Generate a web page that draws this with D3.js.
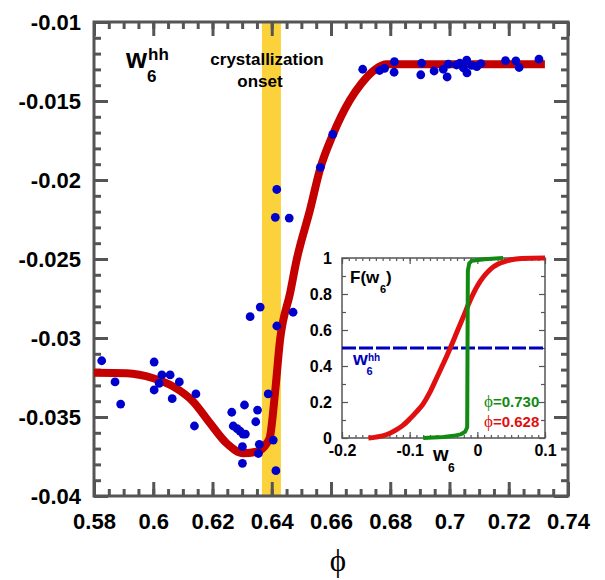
<!DOCTYPE html>
<html>
<head>
<meta charset="utf-8">
<script src="https://cdn.jsdelivr.net/npm/d3@7"></script>
<style>
  body { margin: 0; background: #fff; }
  svg text { font-family: "Liberation Sans", Arial, Helvetica, sans-serif; font-weight: bold; }
</style>
</head>
<body>
<div id="chart"></div>
<script>
// fitted curve (main plot)
var phiFit = [0.580, 0.591, 0.600, 0.6068, 0.6135, 0.6192, 0.6248, 0.6304, 0.6349, 0.6383, 0.6394,
  0.6411, 0.6428, 0.6462, 0.6484, 0.6529, 0.6564, 0.6606, 0.6664, 0.6704, 0.6749, 0.6788, 0.7322];
var wFit = [-0.03220, -0.03223, -0.03255, -0.03308, -0.03403, -0.0354, -0.03667, -0.0373, -0.0372, -0.03667, -0.03625,
  -0.03348, -0.03013, -0.02715, -0.02506, -0.0219, -0.01925, -0.01715, -0.01494, -0.01386, -0.01300, -0.01268, -0.01268];

// measured points
var phiPts = [0.5826, 0.5871, 0.5890, 0.6003, 0.6003, 0.6020, 0.6029, 0.6057, 0.6064, 0.6088,
  0.6144, 0.6139, 0.6265, 0.6270, 0.6283, 0.6293, 0.6303, 0.6311, 0.6308, 0.6301,
  0.6301, 0.6327, 0.6361, 0.6352, 0.6346, 0.6358, 0.6355, 0.6388, 0.6405, 0.6417,
  0.6414, 0.6472, 0.6417, 0.6412, 0.6459, 0.6564, 0.6606, 0.6707, 0.6764, 0.6781,
  0.6814, 0.6813, 0.6906, 0.6903, 0.6948, 0.6979, 0.6992, 0.6996, 0.7024, 0.7035,
  0.7047, 0.7058, 0.7059, 0.7075, 0.7092, 0.7106, 0.7189, 0.7224, 0.7235, 0.7302];
var wPts = [-0.03144, -0.03278, -0.03418, -0.03152, -0.03329, -0.03287, -0.03234, -0.03234, -0.03384, -0.03278,
  -0.03354, -0.03557, -0.03470, -0.03557, -0.03573, -0.03589, -0.03608, -0.03608, -0.03424, -0.03688,
  -0.03793, -0.02865, -0.02804, -0.03456, -0.03530, -0.03673, -0.03731, -0.03354, -0.03646, -0.02924,
  -0.03840, -0.02837, -0.02060, -0.02236, -0.02241, -0.01920, -0.01711, -0.01299, -0.01307, -0.01293,
  -0.01251, -0.01318, -0.01261, -0.01334, -0.01310, -0.01299, -0.01348, -0.01266, -0.01272, -0.01261,
  -0.01291, -0.01242, -0.01322, -0.01275, -0.01283, -0.01264, -0.01245, -0.01246, -0.01288, -0.01235];

var onsetBand = [0.6367, 0.6431];

var xTicks = [0.58, 0.6, 0.62, 0.64, 0.66, 0.68, 0.7, 0.72, 0.74];
var yTicks = [-0.04, -0.035, -0.03, -0.025, -0.02, -0.015, -0.01];

// inset: cumulative distributions F(w6)
var redW = [-0.161, -0.15, -0.14, -0.13, -0.12, -0.11, -0.10, -0.09, -0.08, -0.07, -0.06, -0.05,
  -0.04, -0.03, -0.02, -0.01, 0.0, 0.01, 0.02, 0.03, 0.04, 0.05, 0.065, 0.1];
var redF = [0, 0.005, 0.012, 0.025, 0.045, 0.07, 0.105, 0.145, 0.19, 0.255, 0.335, 0.415,
  0.5, 0.59, 0.68, 0.77, 0.845, 0.9, 0.94, 0.965, 0.98, 0.99, 0.997, 1.0];
var greenW = [-0.08, -0.05, -0.035, -0.025, -0.018, -0.015, -0.0145, -0.014, -0.012, -0.008, 0.01, 0.038];
var greenF = [0, 0.005, 0.012, 0.02, 0.035, 0.06, 0.5, 0.93, 0.97, 0.985, 0.993, 1.0];
var hhLevel = 0.5;

var insetXTicks = [-0.2, -0.1, 0, 0.1];
var insetYTicks = [0, 0.2, 0.4, 0.6, 0.8, 1];

var svgWidth = 605, svgHeight = 580;
var margin = {top: 22, left: 94};
var width = 474, height = 474;

var svg = d3.select("#chart").append("svg")
  .attr("width", svgWidth)
  .attr("height", svgHeight);

var chartGroup = svg.append("g")
  .attr("transform", `translate(${margin.left}, ${margin.top})`);

var x = d3.scaleLinear().domain([0.58, 0.74]).range([0, width]);
var y = d3.scaleLinear().domain([-0.04, -0.01]).range([height, 0]);

var fmt = d => String(+d.toFixed(3));
var axisColor = "#555";

// crystallization onset band
chartGroup.append("rect")
  .attr("x", x(onsetBand[0]))
  .attr("y", 0)
  .attr("width", x(onsetBand[1]) - x(onsetBand[0]))
  .attr("height", height)
  .attr("fill", "#fcd23c");

// ticks on all four sides, pointing inwards
function styleAxis(g, w) {
  g.select(".domain").remove();
  g.selectAll("line").attr("stroke", axisColor).attr("stroke-width", w);
  g.selectAll("text").attr("fill", "#000");
}

var xMinor = d3.range(0.58, 0.7401, 0.005);
var yMinor = d3.range(-0.04, -0.00999, 0.001);

chartGroup.append("g").attr("transform", `translate(0,${height})`)
  .call(d3.axisBottom(x).tickValues(xMinor).tickSize(-7).tickFormat(""))
  .call(g => styleAxis(g, 3));
chartGroup.append("g").attr("transform", `translate(0,${height})`)
  .call(d3.axisBottom(x).tickValues(xTicks).tickSize(-14).tickPadding(17).tickFormat(fmt))
  .call(g => styleAxis(g, 3))
  .selectAll("text").style("font-size", "22px");
chartGroup.append("g")
  .call(d3.axisTop(x).tickValues(xMinor).tickSize(-7).tickFormat(""))
  .call(g => styleAxis(g, 3));
chartGroup.append("g")
  .call(d3.axisTop(x).tickValues(xTicks).tickSize(-14).tickFormat(""))
  .call(g => styleAxis(g, 3));

chartGroup.append("g")
  .call(d3.axisLeft(y).tickValues(yMinor).tickSize(-7).tickFormat(""))
  .call(g => styleAxis(g, 3));
chartGroup.append("g")
  .call(d3.axisLeft(y).tickValues(yTicks).tickSize(-14).tickPadding(13).tickFormat(fmt))
  .call(g => styleAxis(g, 3))
  .selectAll("text").style("font-size", "22px");
chartGroup.append("g").attr("transform", `translate(${width},0)`)
  .call(d3.axisRight(y).tickValues(yMinor).tickSize(-7).tickFormat(""))
  .call(g => styleAxis(g, 3));
chartGroup.append("g").attr("transform", `translate(${width},0)`)
  .call(d3.axisRight(y).tickValues(yTicks).tickSize(-14).tickFormat(""))
  .call(g => styleAxis(g, 3));

chartGroup.append("rect")
  .attr("width", width).attr("height", height)
  .attr("fill", "none").attr("stroke", axisColor).attr("stroke-width", 3);

// fitted curve
var fitLine = d3.line()
  .x((d, i) => x(phiFit[i]))
  .y(d => y(d))
  .curve(d3.curveMonotoneX);

chartGroup.append("path")
  .attr("d", fitLine(wFit))
  .attr("fill", "none")
  .attr("stroke", "#c40000")
  .attr("stroke-width", 8)
  .attr("stroke-linejoin", "round");

chartGroup.selectAll("circle.pt")
  .data(wPts)
  .enter()
  .append("circle")
  .attr("class", "pt")
  .attr("cx", (d, i) => x(phiPts[i]))
  .attr("cy", d => y(d))
  .attr("r", 4.4)
  .attr("fill", "#0000cc");

// labels in main plot
chartGroup.append("text").attr("x", 32).attr("y", 46).style("font-size", "27px").text("w");
chartGroup.append("text").attr("x", 54).attr("y", 38).style("font-size", "17px").text("hh");
chartGroup.append("text").attr("x", 53).attr("y", 59.5).style("font-size", "17px").text("6");

chartGroup.append("text").attr("x", 173).attr("y", 43).attr("text-anchor", "middle")
  .style("font-size", "17px").text("crystallization");
chartGroup.append("text").attr("x", 166).attr("y", 65).attr("text-anchor", "middle")
  .style("font-size", "17px").text("onset");

// axis title
svg.append("text")
  .attr("x", 338).attr("y", 571)
  .attr("text-anchor", "middle")
  .style("font-family", "'Liberation Serif', 'DejaVu Serif', serif")
  .style("font-weight", "normal")
  .style("font-size", "31px")
  .text("ϕ");

// ---------------- inset ----------------
var inset = {left: 342, top: 258, width: 203, height: 180};
var insetGroup = svg.append("g")
  .attr("transform", `translate(${inset.left}, ${inset.top})`);

var ix = d3.scaleLinear().domain([-0.2, 0.1]).range([0, inset.width]);
var iy = d3.scaleLinear().domain([0, 1]).range([inset.height, 0]);

insetGroup.append("rect")
  .attr("width", inset.width).attr("height", inset.height)
  .attr("fill", "#fff");

var ixMinor = d3.range(-0.2, 0.1001, 0.01);
var iyMinor = [0.1, 0.3, 0.5, 0.7, 0.9];

insetGroup.append("g").attr("transform", `translate(0,${inset.height})`)
  .call(d3.axisBottom(ix).tickValues(ixMinor).tickSize(-3).tickFormat(""))
  .call(g => styleAxis(g, 1.2));
insetGroup.append("g").attr("transform", `translate(0,${inset.height})`)
  .call(d3.axisBottom(ix).tickValues(insetXTicks).tickSize(-6).tickPadding(7).tickFormat(fmt))
  .call(g => styleAxis(g, 1.2))
  .selectAll("text").style("font-size", "16px");
insetGroup.append("g")
  .call(d3.axisTop(ix).tickValues(ixMinor).tickSize(-3).tickFormat(""))
  .call(g => styleAxis(g, 1.2));
insetGroup.append("g")
  .call(d3.axisTop(ix).tickValues(insetXTicks).tickSize(-6).tickFormat(""))
  .call(g => styleAxis(g, 1.2));
insetGroup.append("g")
  .call(d3.axisLeft(iy).tickValues(iyMinor).tickSize(-4).tickFormat(""))
  .call(g => styleAxis(g, 1.2));
insetGroup.append("g")
  .call(d3.axisLeft(iy).tickValues(insetYTicks).tickSize(-6).tickPadding(10).tickFormat(fmt))
  .call(g => styleAxis(g, 1.2))
  .selectAll("text").style("font-size", "16px");
insetGroup.append("g").attr("transform", `translate(${inset.width},0)`)
  .call(d3.axisRight(iy).tickValues(iyMinor).tickSize(-4).tickFormat(""))
  .call(g => styleAxis(g, 1.2));
insetGroup.append("g").attr("transform", `translate(${inset.width},0)`)
  .call(d3.axisRight(iy).tickValues(insetYTicks).tickSize(-6).tickFormat(""))
  .call(g => styleAxis(g, 1.2));

insetGroup.append("rect")
  .attr("width", inset.width).attr("height", inset.height)
  .attr("fill", "none").attr("stroke", axisColor).attr("stroke-width", 1.5);

// w6^hh level
insetGroup.append("line")
  .attr("x1", ix(-0.2)).attr("x2", ix(0.1))
  .attr("y1", iy(hhLevel)).attr("y2", iy(hhLevel))
  .attr("stroke", "#0000bb")
  .attr("stroke-width", 3)
  .attr("stroke-dasharray", "14,3");

var redLine = d3.line()
  .x((d, i) => ix(redW[i]))
  .y(d => iy(d))
  .curve(d3.curveMonotoneX);
insetGroup.append("path")
  .attr("d", redLine(redF))
  .attr("fill", "none").attr("stroke", "#e01010").attr("stroke-width", 5);

var greenLine = d3.line()
  .x((d, i) => ix(greenW[i]))
  .y(d => iy(d));
insetGroup.append("path")
  .attr("d", greenLine(greenF))
  .attr("fill", "none").attr("stroke", "#118a11").attr("stroke-width", 4)
  .attr("stroke-linejoin", "round");

// inset labels
insetGroup.append("text").attr("x", 8).attr("y", 25).style("font-size", "17px").text("F(w");
insetGroup.append("text").attr("x", 38).attr("y", 35).style("font-size", "11px").text("6");
insetGroup.append("text").attr("x", 44).attr("y", 25).style("font-size", "17px").text(")");

insetGroup.append("text").attr("x", 91).attr("y", 203).style("font-size", "20px").text("w");
insetGroup.append("text").attr("x", 106).attr("y", 214).style("font-size", "12px").text("6");

insetGroup.append("text").attr("x", 11).attr("y", 107).attr("fill", "#0000bb").style("font-size", "19px").text("w");
insetGroup.append("text").attr("x", 26).attr("y", 103).attr("fill", "#0000bb").style("font-size", "10px").text("hh");
insetGroup.append("text").attr("x", 24.5).attr("y", 117).attr("fill", "#0000bb").style("font-size", "11px").text("6");

function phiLabel(val, yPos, color) {
  var t = insetGroup.append("text")
    .attr("x", 142).attr("y", yPos).attr("fill", color).style("font-size", "15px");
  t.append("tspan")
    .style("font-family", "'Liberation Serif', 'DejaVu Serif', serif")
    .style("font-weight", "normal")
    .style("font-size", "17px")
    .text("ϕ");
  t.append("tspan").text("=" + val);
}
phiLabel("0.730", 148.5, "#118a11");
phiLabel("0.628", 169, "#e01010");
</script>
</body>
</html>
